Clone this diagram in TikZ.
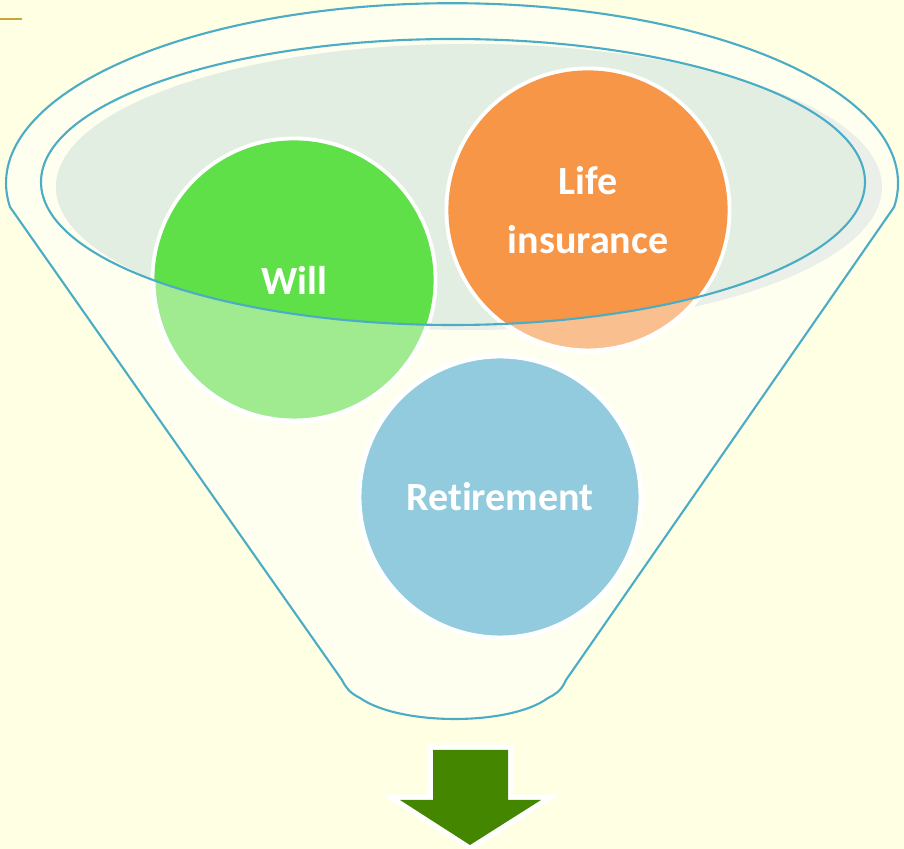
\documentclass[tikz,border=0pt]{standalone}
\usepackage{fontspec}
\setsansfont{Carlito}[Ligatures=NoCommon]
\usepackage{xcolor}

\definecolor{bgyellow}{HTML}{FFFFE4}
\definecolor{funnelin}{HTML}{FFFFEF}
\definecolor{rimblue}{HTML}{4BACC6}
\definecolor{topfill}{HTML}{E3EEE2}
\definecolor{topshade}{HTML}{EBEFEA}
\definecolor{willgreen}{HTML}{5FE048}
\definecolor{willpale}{HTML}{A0EA90}
\definecolor{lifeorange}{HTML}{F79646}
\definecolor{lifepale}{HTML}{F9BF8F}
\definecolor{retireblue}{HTML}{92CBDD}
\definecolor{arrowgreen}{HTML}{458600}
\definecolor{goldline}{HTML}{C9A63A}

\begin{document}
\begin{tikzpicture}[
		x=0.02cm, y=0.02cm,
		Rim/.style={draw=rimblue, line width=1.2pt},
		Bubble/.style={draw=white, line width=2.8pt},
		BubbleText/.style={text=white, align=center,
			font=\sffamily\bfseries\fontsize{22.8}{34}\selectfont}
		]

		% page and background
		\fill[bgyellow] (0,0) rectangle (904,849);
		\useasboundingbox (0,0) rectangle (904,849);
		\draw[goldline, line width=0.6pt] (0,830)--(22,830);

		% centres of the three bubbles
		\coordinate (will) at (294,569);
		\coordinate (life) at (588,639);
		\coordinate (retire) at (500,352);

		% funnel body
		\path[Rim, fill=funnelin] (10,642) arc[start angle=187.6, end angle=-7.6, x radius=446, y radius=180]
			-- (566,169) .. controls (562,160) and (558,156) .. (548,151)
			.. controls (510,123) and (400,123) .. (360,151)
			.. controls (350,156) and (346,161) .. (342,169) -- cycle;

		% top surface
		\fill[topshade] (469,662) ellipse[x radius=413, y radius=143];
		\begin{scope}
			\clip (453,667) ellipse[x radius=412, y radius=143];
			\fill[topfill] (469,662) ellipse[x radius=413, y radius=143];
		\end{scope}

		% bubbles, pale below the rim
		\draw[Bubble, fill=willpale] (will) circle[radius=141];
		\draw[Bubble, fill=lifepale] (life) circle[radius=141];
		\draw[Bubble, fill=retireblue] (retire) circle[radius=141];

		% full colour inside the rim
		\begin{scope}
			\clip (453,667) ellipse[x radius=412, y radius=143];
			\fill[willgreen] (will) circle[radius=139.6];
			\fill[lifeorange] (life) circle[radius=139.6];
		\end{scope}

		\draw[Rim] (453,667) ellipse[x radius=412, y radius=143];

		\node[BubbleText] (willtxt) at (will) {Will};
		\node[BubbleText] (lifetxt) at (life) {Life\\insurance};
		\node[BubbleText] (retiretxt) at (retire) {Retirement};

		% outlet arrow
		\draw[white, line width=6pt, line join=miter, fill=arrowgreen]
			(433,99) -- (508,99) -- (508,49) -- (541,49) -- (470,4) -- (400,49) -- (433,49) -- cycle;
		\fill[arrowgreen] (433,99) -- (508,99) -- (508,49) -- (541,49) -- (470,4) -- (400,49) -- (433,49) -- cycle;

\end{tikzpicture}
\end{document}
